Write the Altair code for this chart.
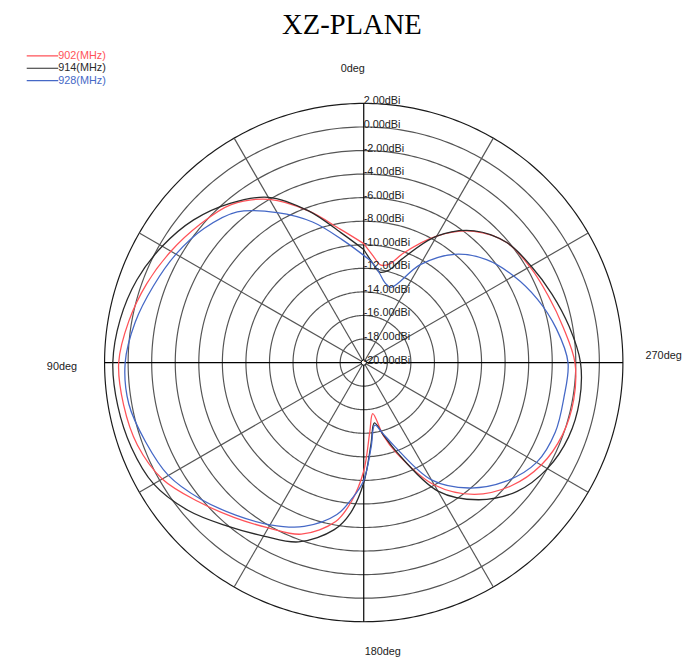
import altair as alt
import pandas as pd

# ---------------- data ----------------
ANGLES = [0, 10, 20, 30, 40, 50, 60, 70, 80, 90, 100, 110, 120, 130, 140, 150, 160, 170,
          175, 180, 185, 190, 195, 200, 210, 220, 230, 240, 250, 260, 270, 280, 290, 300,
          310, 320, 330, 340, 345, 350, 355]
DBI_902 = [-9.9, -8.5, -6.3, -4.0, -2.5, -1.8, -1.1, -0.4, 0.25, 0.8, 0.7, 0.45, -0.25, -1.65,
           -2.85, -3.8, -4.5, -6.3, -8.2, -10.8, -14.1, -15.6, -13.6, -11.8, -8.0, -5.4, -3.7,
           -2.6, -2.05, -1.9, -2.07, -2.8, -3.35, -3.72, -4.15, -5.45, -7.6, -10.1, -11.3,
           -11.6, -10.9]
DBI_914 = [-10.4, -8.8, -6.3, -3.8, -2.35, -1.15, -0.25, 0.5, 1.0, 1.3, 1.2, 1.0, 0.6, -0.5,
           -1.9, -3.0, -3.8, -5.6, -7.2, -9.8, -13.0, -14.8, -13.7, -12.0, -7.4, -4.8, -3.0,
           -2.0, -1.5, -1.4, -1.6, -2.3, -3.0, -3.6, -4.15, -5.4, -7.6, -10.7, -11.9, -12.2,
           -11.5]
DBI_928 = [-10.9, -9.4, -7.3, -5.3, -3.3, -2.3, -1.6, -1.0, -0.3, 0.25, 0.25, -0.3, -0.85,
           -1.95, -3.1, -4.1, -5.2, -6.9, -8.4, -10.0, -12.8, -14.6, -13.8, -12.5, -8.5, -6.1,
           -4.3, -3.05, -2.7, -2.75, -2.66, -3.4, -4.3, -5.3, -6.4, -8.0, -10.4, -13.2, -13.0,
           -12.3, -11.5]
SERIES = ["902(MHz)", "914(MHz)", "928(MHz)"]
COLORS = ["#ff5258", "#2a2a2a", "#4568c6"]
TICK_DBI = [2, 0, -2, -4, -6, -8, -10, -12, -14, -16, -18, -20]
RING_DBI = [2, 0, -2, -4, -6, -8, -10, -12, -14, -16, -18]
SPOKE_DEG = [30, 60, 120, 150, 210, 240, 300, 330]
AXIS_DEG = [0, 90, 180, 270]
R_MIN, R_MAX = -20, 2
TITLE = "XZ-PLANE"

# ---------------- layout ----------------
W = H = 526
PAD = {"left": 98, "top": 92, "right": 62, "bottom": 34}
SPAN = R_MAX - R_MIN
SX = alt.Scale(domain=[-SPAN, SPAN], nice=False, zero=False)
SY = alt.Scale(domain=[-SPAN, SPAN], nice=False, zero=False)
FONT = "Liberation Sans"

rows = []
for name, vals in zip(SERIES, [DBI_902, DBI_914, DBI_928]):
    for i, (a, v) in enumerate(zip(ANGLES + [360], vals + [vals[0]])):
        rows.append({"series": name, "idx": i, "ang": a, "dbi": v})
curves = pd.DataFrame(rows)

rings = pd.DataFrame([{"ring": r, "ang": a} for r in RING_DBI for a in range(0, 361, 1)])
spokes = pd.DataFrame({"ang": SPOKE_DEG})
axes_df = pd.DataFrame({"ang": AXIS_DEG})
ticks = pd.DataFrame({"dbi": TICK_DBI, "label": [f"{v:.2f}dBi" for v in TICK_DBI]})

XE = f"-(datum.dbi - ({R_MIN})) * sin(datum.ang * PI / 180)"
YE = f"(datum.dbi - ({R_MIN})) * cos(datum.ang * PI / 180)"

ring_layer = alt.Chart(rings).transform_calculate(
    x=f"-(datum.ring - ({R_MIN})) * sin(datum.ang * PI / 180)",
    y=f"(datum.ring - ({R_MIN})) * cos(datum.ang * PI / 180)",
    outer=f"datum.ring == {R_MAX}",
).mark_line(strokeWidth=1.2).encode(
    x=alt.X("x:Q", scale=SX, axis=None),
    y=alt.Y("y:Q", scale=SY, axis=None),
    detail="ring:N",
    order="ang:Q",
    color=alt.condition("datum.outer", alt.value("#1a1a1a"), alt.value("#555555")),
)

spoke_layer = alt.Chart(spokes).transform_calculate(
    x0="0", y0="0",
    x=f"-{SPAN} * sin(datum.ang * PI / 180)",
    y=f"{SPAN} * cos(datum.ang * PI / 180)",
).mark_rule(color="#555555", strokeWidth=1.2).encode(
    x=alt.X("x0:Q", scale=SX, axis=None), y=alt.Y("y0:Q", scale=SY, axis=None),
    x2="x:Q", y2="y:Q",
)

axis_layer = alt.Chart(axes_df).transform_calculate(
    x0="0", y0="0",
    x=f"-{SPAN} * sin(datum.ang * PI / 180)",
    y=f"{SPAN} * cos(datum.ang * PI / 180)",
).mark_rule(color="#000000", strokeWidth=1.2).encode(
    x=alt.X("x0:Q", scale=SX, axis=None), y=alt.Y("y0:Q", scale=SY, axis=None),
    x2="x:Q", y2="y:Q",
)

curve_layer = alt.Chart(curves).transform_calculate(x=XE, y=YE).mark_line(
    strokeWidth=1.3, interpolate="catmull-rom"
).encode(
    x=alt.X("x:Q", scale=SX, axis=None),
    y=alt.Y("y:Q", scale=SY, axis=None),
    order="idx:Q",
    color=alt.Color("series:N", scale=alt.Scale(domain=SERIES, range=COLORS), legend=None),
)

center_layer = alt.Chart(pd.DataFrame({"dbi": [R_MIN], "ang": [0]})).transform_calculate(
    x=XE, y=YE
).mark_point(shape="circle", filled=True, fill="white", stroke="#000000", strokeWidth=1,
             size=28, opacity=1).encode(
    x=alt.X("x:Q", scale=SX, axis=None), y=alt.Y("y:Q", scale=SY, axis=None),
)

tick_layer = alt.Chart(ticks).transform_calculate(ang="0").transform_calculate(
    x=XE, y=YE
).mark_text(align="left", baseline="middle", dx=0, dy=-2, fontSize=11, font=FONT,
            color="#222222").encode(
    x=alt.X("x:Q", scale=SX, axis=None), y=alt.Y("y:Q", scale=SY, axis=None),
    text="label:N",
)

# degree labels (pixel placement relative to plot area)
deg_pos = [("0deg", 264, -35, "right"), ("90deg", -28, 268, "right"),
           ("180deg", 264, 557, "left"), ("270deg", 549, 256, "left")]
deg_layers = [
    alt.Chart(pd.DataFrame({"t": [t]})).mark_text(
        align=al, baseline="middle", fontSize=11, font=FONT, color="#222222"
    ).encode(text="t:N", x=alt.value(px), y=alt.value(py))
    for t, px, py, al in deg_pos
]

title_layer = alt.Chart(pd.DataFrame({"t": [TITLE]})).mark_text(
    align="center", baseline="alphabetic", fontSize=29, font="Liberation Serif",
    color="#000000"
).encode(text="t:N", x=alt.value(251), y=alt.value(-70))

legend_layers = []
for k, (name, col) in enumerate(zip(SERIES, COLORS)):
    yy = -48.2 + 12.5 * k
    legend_layers.append(
        alt.Chart(pd.DataFrame({"t": [name]})).mark_rule(color=col, strokeWidth=1.2).encode(
            x=alt.value(-79), x2=alt.value(-47), y=alt.value(yy))
    )
    legend_layers.append(
        alt.Chart(pd.DataFrame({"t": [name]})).mark_text(
            align="left", baseline="middle", fontSize=11, font=FONT, color=col
        ).encode(text="t:N", x=alt.value(-47), y=alt.value(yy))
    )

chart = alt.layer(
    ring_layer, spoke_layer, axis_layer, curve_layer, center_layer, tick_layer,
    *deg_layers, title_layer, *legend_layers
).properties(
    width=W, height=H,
    autosize=alt.AutoSizeParams(type="none"),
    padding=PAD,
).configure_view(stroke=None)

chart.save("out.html", embed_options={"renderer": "svg", "actions": False})
